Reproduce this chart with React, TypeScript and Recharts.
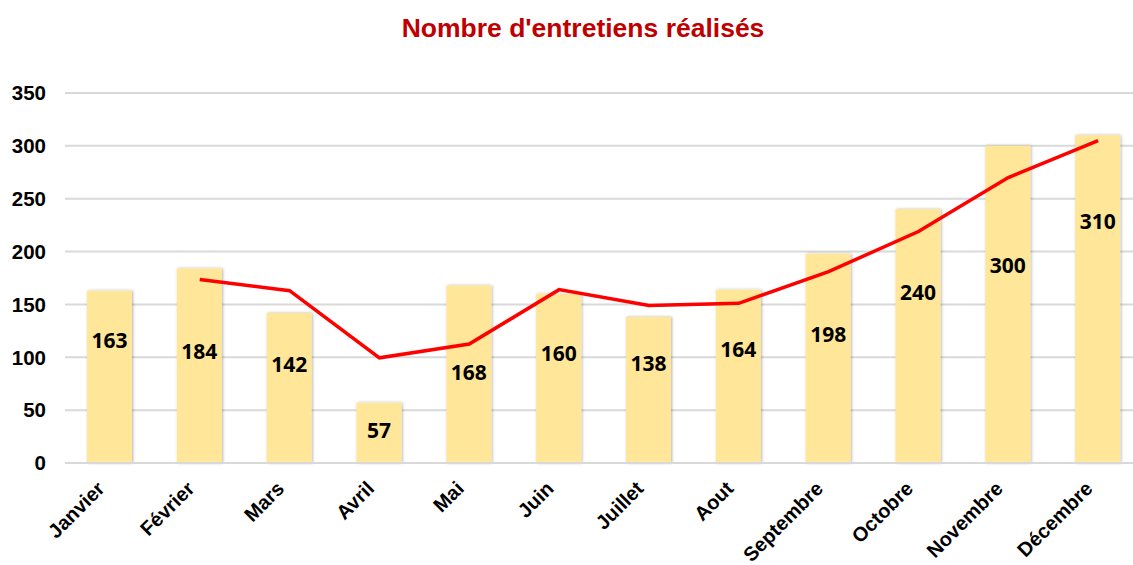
import React from "react";
import {
  ComposedChart,
  Bar,
  Line,
  XAxis,
  YAxis,
  CartesianGrid,
  LabelList,
} from "recharts";

const months = [
  "Janvier",
  "Février",
  "Mars",
  "Avril",
  "Mai",
  "Juin",
  "Juillet",
  "Aout",
  "Septembre",
  "Octobre",
  "Novembre",
  "Décembre",
];

const interviews = [163, 184, 142, 57, 168, 160, 138, 164, 198, 240, 300, 310];

// trend line (no point for January)
const trend = [null, 173.5, 163, 99.5, 112.5, 164, 149, 151, 181, 219, 270, 305];

// height (in chart units) where each bar's value label sits
const labelAt = [116, 106, 94, 31, 86, 104, 95, 108, 122, 162, 187, 229];

const yTicks = [0, 50, 100, 150, 200, 250, 300, 350];

const data = months.map((m, i) => ({
  month: m,
  value: interviews[i],
  trend: trend[i],
}));

const FONT = "'Liberation Sans', Arial, sans-serif";

function MonthTick(props: any) {
  const { x, y, payload } = props;
  return (
    <g transform={`translate(${x - 14},${y + 9})`}>
      <text
        transform="rotate(-45)"
        textAnchor="end"
        dy={14}
        fontFamily={FONT}
        fontWeight="bold"
        fontSize={20}
        fill="#000"
      >
        {payload.value}
      </text>
    </g>
  );
}

function ValueLabel(props: any) {
  const { x, y, width, height, value, index } = props;
  const frac = labelAt[index] / value;
  const ly = y + height * (1 - frac);
  return (
    <text
      x={x + width / 2}
      y={ly}
      textAnchor="middle"
      dominantBaseline="central"
      fontFamily="'Noto Sans', 'Open Sans', sans-serif"
      fontWeight="bold"
      fontSize={21}
      fill="#000"
    >
      {value}
    </text>
  );
}

export default function App() {
  return (
    <div
      style={{
        position: "absolute",
        left: 0,
        top: 0,
        width: 1133,
        height: 565,
        overflow: "hidden",
        background: "#fff",
      }}
    >
      <div
        style={{
          position: "absolute",
          top: 13,
          left: 0,
          width: 1166,
          textAlign: "center",
          fontFamily: FONT,
          fontWeight: "bold",
          fontSize: 26.5,
          color: "#C00000",
        }}
      >
        Nombre d'entretiens réalisés
      </div>
      <ComposedChart
        width={1160}
        height={565}
        data={data}
        margin={{ top: 93, right: 17, bottom: 0, left: 0 }}
      >
        <defs>
          <filter id="barShadow" x="-20%" y="-5%" width="140%" height="110%">
            <feDropShadow dx="1" dy="0" stdDeviation="1.5" floodColor="#000" floodOpacity="0.3" />
          </filter>
        </defs>
        <CartesianGrid vertical={false} stroke="#D9D9D9" strokeWidth={2} />
        <XAxis
          dataKey="month"
          interval={0}
          height={102}
          tickLine={false}
          axisLine={{ stroke: "#D9D9D9", strokeWidth: 2 }}
          tick={<MonthTick />}
        />
        <YAxis
          width={65}
          domain={[0, 350]}
          ticks={yTicks}
          axisLine={false}
          tickLine={false}
          tickMargin={13}
          tick={{ fontFamily: FONT, fontWeight: "bold", fontSize: 20.5, fill: "#000" }}
        />
        <Bar
          dataKey="value"
          fill="#FFE699"
          barSize={45}
          filter="url(#barShadow)"
          isAnimationActive={false}
        >
          <LabelList dataKey="value" content={<ValueLabel />} />
        </Bar>
        <Line
          dataKey="trend"
          type="linear"
          stroke="#FF0000"
          strokeWidth={3.5}
          dot={false}
          activeDot={false}
          connectNulls={false}
          isAnimationActive={false}
        />
      </ComposedChart>
    </div>
  );
}
